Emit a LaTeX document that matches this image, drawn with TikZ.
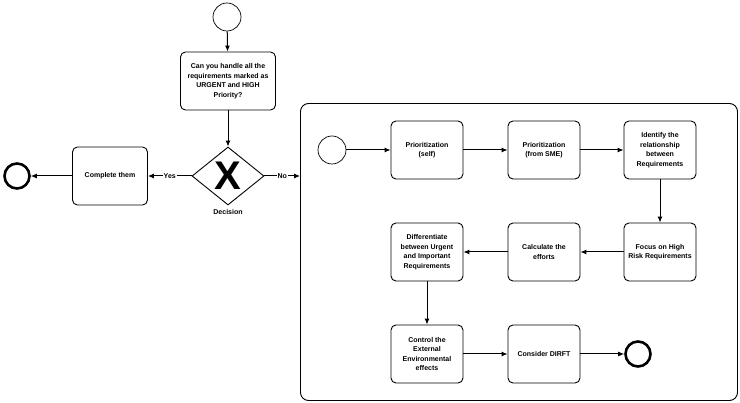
\documentclass[tikz,border=0pt]{standalone}
\usepackage{fontspec}
\setsansfont{Liberation Sans}
\usetikzlibrary{shapes.geometric,arrows.meta}

\begin{document}
\begin{tikzpicture}[x=1pt,y=-1pt,
    task/.style={draw,line width=0.9pt,rounded corners=5pt,minimum width=72pt,minimum height=58pt,align=center,inner sep=1pt,font=\sffamily\bfseries\fontsize{7}{9.5}\selectfont},
    startev/.style={draw,circle,line width=0.7pt,minimum size=28pt,inner sep=0pt},
    endev/.style={draw,circle,line width=2.6pt,minimum size=25pt,inner sep=0pt},
    flow/.style={-{Latex[length=6pt,width=5pt]},line width=1pt},
    lbl/.style={fill=white,inner sep=1pt,font=\sffamily\bfseries\fontsize{7}{9}\selectfont}]
            \useasboundingbox (0,0) rectangle (740,403);

            \node[startev] (top) at (227,17) {};
            \node[task,minimum width=95pt] (ask) at (228,81) {Can you handle all the\\requirements marked as\\URGENT and HIGH\\Priority?};
            \node[draw,diamond,line width=0.9pt,minimum width=72pt,minimum height=58pt,inner sep=0pt,font=\sffamily\bfseries\fontsize{40}{40}\selectfont] (gate) at (228,176) {X};
            \node[lbl] (gatename) at (228,212) {Decision};
            \node[task,minimum width=75pt] (done) at (110,176) {Complete them};
            \node[endev] (fin) at (17,176) {};

            \node[draw,line width=0.9pt,rounded corners=8pt,minimum width=437pt,minimum height=297pt] (sub) at (519,252) {};

            \node[startev] (s0) at (332,150) {};
            \node[task] (self) at (427,150) {Prioritization\\(self)};
            \node[task] (sme) at (544,150) {Prioritization\\(from SME)};
            \node[task] (rel) at (660,150) {Identify the\\relationship\\between\\Requirements};
            \node[task] (risk) at (660,252) {Focus on High\\Risk Requirements};
            \node[task] (eff) at (544,252) {Calculate the\\efforts};
            \node[task] (diff) at (427,252) {Differentiate\\between Urgent\\and Important\\Requirements};
            \node[task] (env) at (427,354) {Control the\\External\\Environmental\\effects};
            \node[task] (dirft) at (544,354) {Consider DIRFT};
            \node[endev] (s1) at (638,354) {};

            \draw[flow] (top) -- (ask);
            \draw[flow] (ask) -- (gate);
            \draw[flow] (gate) -- node[lbl] {Yes} (done);
            \draw[flow] (done) -- (fin);
            \draw[flow] (gate.east) -- node[lbl] {No} (sub.west |- gate.east);

            \draw[flow] (s0) -- (self);
            \draw[flow] (self) -- (sme);
            \draw[flow] (sme) -- (rel);
            \draw[flow] (rel) -- (risk);
            \draw[flow] (risk) -- (eff);
            \draw[flow] (eff) -- (diff);
            \draw[flow] (diff) -- (env);
            \draw[flow] (env) -- (dirft);
            \draw[flow] (dirft) -- (s1);
\end{tikzpicture}
\end{document}
